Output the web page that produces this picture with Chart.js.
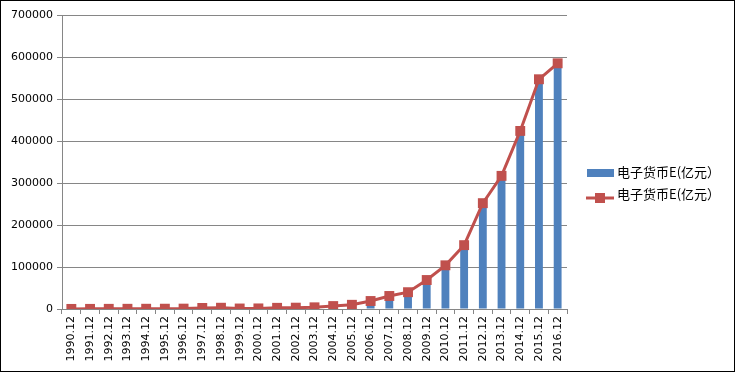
<!DOCTYPE html>
<html><head><meta charset="utf-8">
<script src="https://cdn.jsdelivr.net/npm/chart.js@4"></script>
<style>
html,body{margin:0;padding:0;background:#fff;}
#wrap{position:relative;width:735px;height:372px;}
canvas{display:block;}
.lg{position:absolute;font-family:"Noto Sans CJK SC",sans-serif;font-size:13px;color:#000;line-height:15px;white-space:nowrap;}
</style></head>
<body>
<div id="wrap">
<canvas id="c" width="735" height="372"></canvas>
<div class="lg" style="left:617px;top:164px;">电子货币E(亿元）</div>
<div class="lg" style="left:617px;top:186px;">电子货币E(亿元）</div>
</div>
<script>
const categories = ["1990.12","1991.12","1992.12","1993.12","1994.12","1995.12","1996.12","1997.12","1998.12","1999.12","2000.12","2001.12","2002.12","2003.12","2004.12","2005.12","2006.12","2007.12","2008.12","2009.12","2010.12","2011.12","2012.12","2013.12","2014.12","2015.12","2016.12"];
const barValues = [200,300,400,500,600,700,900,2500,3000,1200,1400,2800,3200,4000,7000,10000,19000,31000,40000,69000,104000,152000,252000,317000,424000,547000,585000];
const lineValues = [200,300,400,500,600,700,900,2500,3000,1200,1400,2800,3200,4000,7000,10000,19000,31000,40000,69000,104000,152000,252000,317000,424000,547000,585000];
const seriesName = "电子货币E(亿元）";
const yTicks = [0,100000,200000,300000,400000,500000,600000,700000];

const BAR = "#4F81BD", LINE = "#C0504D", GRID = "#868686";
const font = {family:"DejaVu Sans", size:11};

const extras = {
  id:'extras',
  afterDraw(chart){
    const ctx = chart.ctx;
    ctx.save();
    ctx.strokeStyle = "#000";
    ctx.lineWidth = 1;
    ctx.strokeRect(0.5,0.5,734,371);
    ctx.fillStyle = BAR;
    ctx.fillRect(587,169,27,8);
    ctx.strokeStyle = LINE;
    ctx.lineWidth = 3;
    ctx.beginPath(); ctx.moveTo(586,198); ctx.lineTo(614,198); ctx.stroke();
    ctx.fillStyle = LINE;
    ctx.fillRect(595,193,10,10);
    ctx.restore();
  }
};

new Chart(document.getElementById('c'), {
  type:'bar',
  data:{
    labels:categories,
    datasets:[
      {type:'line', label:seriesName, data:lineValues, borderColor:LINE, backgroundColor:LINE, borderWidth:3,
       pointStyle:'rect', pointRadius:7, pointHoverRadius:7, pointBorderWidth:0, tension:0, order:0},
      {type:'bar', label:seriesName, data:barValues, backgroundColor:BAR, borderWidth:0,
       categoryPercentage:0.42, barPercentage:1, order:1}
    ]
  },
  options:{
    responsive:false, animation:false,
    layout:{padding:{left:0, top:15, right:168, bottom:0}},
    plugins:{legend:{display:false}, tooltip:{enabled:false}},
    scales:{
      x:{
        offset:true,
        grid:{offset:true, drawOnChartArea:false, drawTicks:true, tickLength:5, color:GRID},
        border:{color:GRID, width:1},
        ticks:{font, color:"#000", minRotation:90, maxRotation:90, autoSkip:false, padding:2},
        afterFit(s){ s.height = 63; }
      },
      y:{
        min:0, max:700000,
        afterBuildTicks(s){ s.ticks = yTicks.map(v=>({value:v})); },
        grid:{color:GRID, tickLength:5, drawTicks:true},
        border:{color:GRID, width:1},
        ticks:{font, color:"#000", padding:4, callback:v=>String(v)},
        afterFit(s){ s.width = 62; }
      }
    }
  },
  plugins:[extras]
});
</script>
</body></html>
